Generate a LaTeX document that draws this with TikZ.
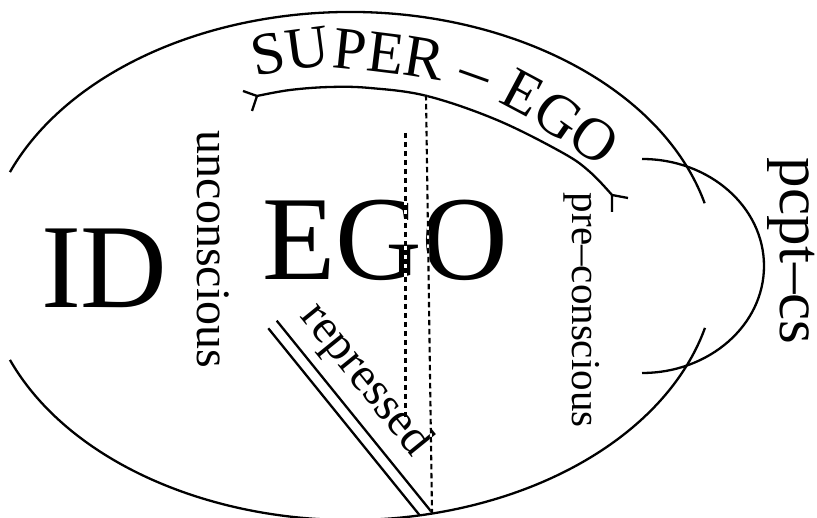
\documentclass[tikz,border=0pt]{standalone}
\usepackage{fontspec}
\setmainfont{Liberation Serif}
\usetikzlibrary{decorations.text}
\tikzset{
  outline/.style={line width=2.3pt},
  dotline/.style={line width=2.1pt, dash pattern=on 5.5pt off 3.5pt},
  dotbase/.style={line width=2.1pt, white},
  lbl/.style={inner sep=0pt, outer sep=0pt},
}
\begin{document}
\begin{tikzpicture}[x=1pt,y=1pt]
\useasboundingbox (0,0) rectangle (817,518);
% main ellipse, open at left and at right
\coordinate (C) at (350,252);
\draw[outline] (C) ++(14.3:366pt and 254pt) arc[start angle=14.3,end angle=158.3,x radius=366pt,y radius=254pt];
\draw[outline] (C) ++(201.7:366pt and 254pt) arc[start angle=201.7,end angle=345.9,x radius=366pt,y radius=254pt];
% pcpt-cs half ellipse
\coordinate (pt) at (642,359);
\draw[outline] (pt) arc[start angle=90,end angle=-90,x radius=122pt,y radius=107pt];
% super-ego arc with forks
\coordinate (sl) at (257,422);
\coordinate (sr) at (612,323);
\draw[outline] plot[smooth,tension=0.6] coordinates {(257,422) (290,428) (330,431) (370,430) (427,422) (497,398) (563,365) (590,346) (612,323)};
\draw[outline] (sl) -- (243,427) (sl) -- (252,407);
\draw[outline] (sr) -- (628,320) (sr) -- (612,306);
\path[decorate, decoration={text along path, text align=left,
  text={|\fontsize{60}{60}\selectfont|SUPER – EGO}}]
  plot[smooth,tension=0.6] coordinates {(256,441) (300,449) (340,450) (447,435) (510,410) (555,381) (590,358) (620,333) (645,305) (660,280)};
% labels
\node[lbl, anchor=base west, font=\fontsize{120}{120}\selectfont] (id) at (41,210) {ID};
\node[lbl, anchor=base west, font=\fontsize{120}{120}\selectfont] (ego) at (262,238) {EGO};
\node[lbl, anchor=base west, rotate=-90, font=\fontsize{48}{48}\selectfont] (uncs) at (197,387) {unconscious};
\node[lbl, anchor=base west, rotate=-90, font=\fontsize{41}{41}\selectfont] (pcs) at (572,325) {pre–conscious};
\node[lbl, anchor=base west, rotate=-90, font=\fontsize{61}{61}\selectfont] (pcpt) at (780,360) {pcpt–cs};
\node[lbl, anchor=base west, rotate=-51, font=\fontsize{48}{48}\selectfont] (rep) at (299,201) {repressed};
% repressed double line
\coordinate (r1a) at (268.3,189.7); \coordinate (r1b) at (419.7,2.7);
\coordinate (r2a) at (276.7,197.3); \coordinate (r2b) at (432.7,4.6);
\draw[outline] (r1a) -- (r1b);
\draw[outline] (r2a) -- (r2b);
% dashed boundaries
\coordinate (d1a) at (405.5,385); \coordinate (d1b) at (405.5,98);
\coordinate (d2a) at (426,423); \coordinate (d2b) at (432,5);
\draw[dotbase] (d1a) -- (d1b);
\draw[dotbase] (d2a) -- (d2b);
\draw[dotline] (d1a) -- (d1b);
\draw[dotline] (d2a) -- (d2b);
\end{tikzpicture}
\end{document}
